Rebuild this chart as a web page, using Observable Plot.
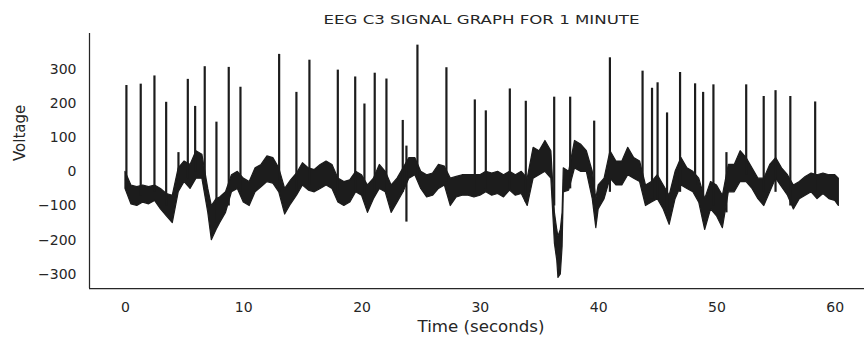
<!DOCTYPE html>
<html><head><meta charset="utf-8">
<script src="https://cdn.jsdelivr.net/npm/d3@7"></script>
<script src="https://cdn.jsdelivr.net/npm/@observablehq/plot@0.6"></script>
<style>body{margin:0;background:#fff}</style>
</head><body><div id="chart"></div>
<script>
// Envelope of the noisy EEG trace (seconds, lower / upper voltage)
const timeSec = [0,0.5,1,1.5,2,2.5,3,3.5,4,4.5,5,5.5,6,6.5,7,7.3,7.7,8,8.5,9,9.5,
  10,10.5,11,11.5,12,12.5,13,13.5,14,14.5,15,15.5,16,16.5,17,17.5,18,18.5,19,19.5,
  20,20.5,21,21.5,22,22.5,23,23.5,24,24.5,25,25.5,26,26.5,27,27.5,28,28.5,29,29.5,
  30,30.5,31,31.5,32,32.5,33,33.5,34,34.5,35,35.5,36,36.3,36.5,36.6,36.8,36.95,37.05,37.5,
  38,38.5,39,39.5,39.8,40,40.5,41,41.5,42,42.5,43,43.5,44,44.5,45,45.5,46,46.5,47,47.5,
  48,48.5,49,49.5,50,50.5,51,51.5,52,52.5,53,53.5,54,54.5,55,55.5,56,56.5,57,57.5,
  58,58.5,59,59.5,60,60.3];
const voltLow = [-50,-95,-100,-90,-95,-85,-110,-130,-150,-60,-30,-50,-20,-20,-120,-200,-170,-150,-120,-60,-50,
  -90,-100,-60,-45,-30,-35,-60,-125,-95,-70,-40,-55,-60,-50,-40,-50,-90,-100,-90,-60,
  -70,-120,-80,-50,-60,-120,-90,-60,-20,-10,-50,-75,-70,-50,-40,-100,-75,-70,-70,-75,
  -70,-60,-70,-65,-75,-55,-70,-65,-100,-20,-10,0,-20,-210,-260,-310,-300,-220,-60,-55,
  10,0,0,-80,-165,-110,-80,-20,-40,-40,-10,-20,-30,-100,-90,-80,-110,-155,-80,-40,-50,
  -60,-90,-170,-110,-130,-165,-60,-60,-30,-30,-50,-80,-100,-60,-20,-45,-70,-110,-80,-70,
  -60,-80,-65,-80,-85,-100];
const voltHigh = [0,-40,-45,-40,-45,-40,-50,-65,-70,10,30,20,60,50,-50,-100,-80,-75,-60,-10,0,
  -20,-30,10,20,45,40,10,-50,-25,-5,25,10,5,20,30,20,-20,-30,-25,0,
  -10,-40,-20,20,0,-40,-20,10,40,40,0,-10,-5,20,15,-20,-15,-10,-10,-10,
  -10,0,-5,0,-10,0,-10,0,-20,70,60,90,60,-120,-170,-190,-170,-120,10,0,
  90,80,60,0,-80,-40,-20,60,30,30,70,40,30,-40,-30,-10,-40,-70,0,40,10,
  0,-20,-80,-30,-40,-70,20,20,60,40,10,-20,-20,20,40,10,-10,-40,-30,-15,
  -5,-10,-5,-10,-10,-20];
// Spikes (seconds, foot voltage, peak voltage)
const spikeTime = [0.08,1.29,2.45,3.44,4.48,5.27,5.89,6.70,7.69,8.73,9.72,12.99,14.45,15.55,17.95,19.42,
  20.20,21.07,22.06,23.44,23.75,24.68,27.13,29.53,30.46,32.49,33.84,36.24,37.59,39.62,40.95,
  43.71,44.51,44.98,45.78,46.88,48.15,48.83,49.70,50.80,52.47,53.95,54.95,56.20,58.30];
const spikeLow = [-50,-70,-60,-100,-40,-20,0,-20,-150,-100,-60,-60,-60,-40,-60,-60,
  -80,-60,-60,-60,-147,-20,-30,-60,-50,-50,-90,-100,-50,-60,-60,
  -40,-80,-80,-120,-60,-40,-80,-100,-120,-10,-60,-60,-100,-60];
const spikeHigh = [252,256,280,203,56,270,191,307,145,305,247,343,232,326,297,277,
  198,288,271,150,75,370,304,210,178,242,206,218,218,148,333,
  294,244,260,172,290,257,232,254,56,254,220,237,220,204];
const xTicks = [0,10,20,30,40,50,60];
const yTicks = [-300,-200,-100,0,100,200,300];
const xDomain = [-3.04, 62.47];
const yDomain = [-341, 404];
const titleText = "EEG C3 SIGNAL GRAPH FOR 1 MINUTE";
const xLabel = "Time (seconds)";
const yLabel = "Voltage";

const band = timeSec.map((t, i) => ({t, lo: voltLow[i], hi: voltHigh[i]}));
const spikes = spikeTime.map((t, i) => ({t, lo: spikeLow[i], hi: spikeHigh[i]}));
const ink = "#1c1c1c", textColor = "#262626";

const chart = Plot.plot({
  width: 864, height: 339,
  marginLeft: 89, marginRight: 0, marginTop: 33, marginBottom: 51,
  style: {fontFamily: "DejaVu Sans", fontSize: "14px", color: textColor, background: "#fff"},
  x: {domain: xDomain, ticks: xTicks, tickSize: 0, tickPadding: 14, label: null},
  y: {domain: yDomain, ticks: yTicks, tickSize: 0, tickPadding: 13, label: null},
  marks: [
    Plot.areaY(band, {x: "t", y1: "lo", y2: "hi", fill: ink, stroke: ink, strokeWidth: 1.2, strokeLinejoin: "round"}),
    Plot.ruleX(spikes, {x: "t", y1: "lo", y2: "hi", stroke: ink, strokeWidth: 2.2}),
    Plot.ruleX([xDomain[0]], {stroke: textColor, strokeWidth: 1.25}),
    Plot.ruleY([yDomain[0]], {stroke: textColor, strokeWidth: 1.25}),
    Plot.text([titleText], {text: d => d, frameAnchor: "top", lineAnchor: "middle", dx: 4.5, dy: -13.5, fontSize: 13, fill: textColor}),
    Plot.text([yLabel], {text: d => d, frameAnchor: "left", lineAnchor: "middle", dx: -69, rotate: -90, fontSize: 15, fill: textColor}),
    Plot.text([xLabel], {text: d => d, frameAnchor: "bottom", lineAnchor: "middle", dx: 4, dy: 39, fontSize: 15.5, fill: textColor})
  ]
});
document.getElementById("chart").appendChild(chart);
chart.querySelectorAll("text").forEach(el => {
  if (el.textContent === titleText) { el.setAttribute("textLength", 316); el.setAttribute("lengthAdjust", "spacingAndGlyphs"); }
  if (el.textContent === xLabel) { el.setAttribute("textLength", 127); el.setAttribute("lengthAdjust", "spacingAndGlyphs"); }
});
</script>
</body></html>
